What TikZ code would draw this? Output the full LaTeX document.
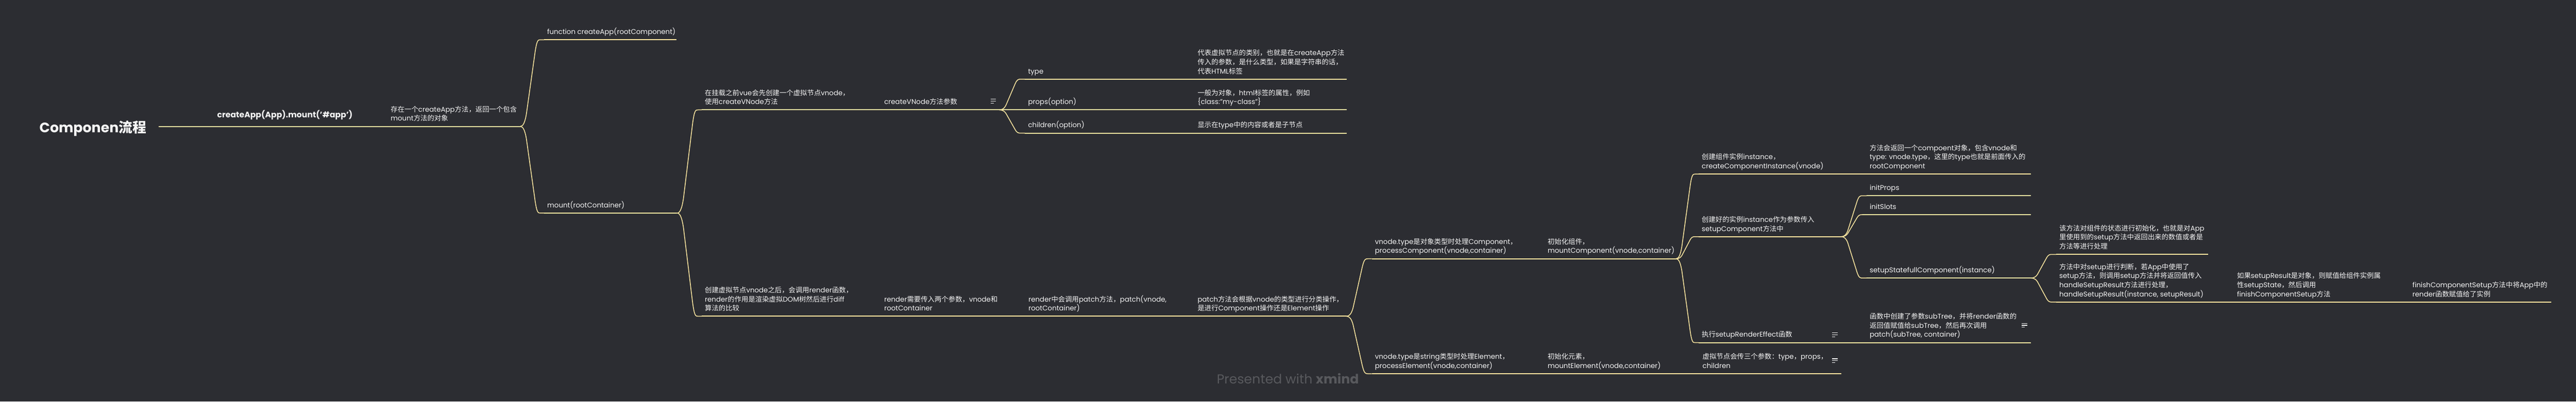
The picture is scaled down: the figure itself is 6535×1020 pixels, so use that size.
\documentclass[tikz,border=0pt]{standalone}
\usepackage{fontspec}
\setmainfont{Poppins}
\newfontfamily\cjkf{Noto Sans CJK SC}
\newfontfamily\latf{Poppins}
\usetikzlibrary{calc}
\definecolor{bgc}{RGB}{44,45,50}
\definecolor{lnc}{RGB}{250,230,160}
\definecolor{txc}{RGB}{245,245,245}
\definecolor{wmc}{RGB}{88,89,93}
\XeTeXinterchartokenstate=1
\newXeTeXintercharclass\CJKcls
\makeatletter
\def\setcjkrange#1#2{\count@=#1\relax\loop\ifnum\count@<#2\relax\XeTeXcharclass\count@=\CJKcls\advance\count@ by 1\relax\repeat}
\setcjkrange{"3000}{"3040}
\setcjkrange{"4E00}{"A000}
\setcjkrange{"FF00}{"FFF0}
\makeatother
\XeTeXinterchartoks 0 \CJKcls = {\cjkf}
\XeTeXinterchartoks 4095 \CJKcls = {\cjkf}
\XeTeXinterchartoks \CJKcls 0 = {\latf}
\XeTeXinterchartoks \CJKcls 4095 = {\latf}
\tikzset{
  txt/.style={text=txc, inner sep=0pt, align=left, anchor=south west,
    font=\fontsize{17.5}{23}\selectfont, execute at end node=\strut},
  ul/.style={draw=lnc, line width=2.6pt},
  xm/.style={to path={let \p1=(\tikztostart), \p2=(\tikztotarget), \n1={\x2-\x1}, \n2={\y2-\y1} in
    .. controls (\x1+0.12*\n1,\y1) and (\x1+0.2*\n1,\y1+0.05*\n2) .. (\x1+0.26*\n1,\y1+0.15*\n2)
    -- (\x1+0.62*\n1,\y1+0.85*\n2)
    .. controls (\x1+0.7*\n1,\y2) and (\x1+0.75*\n1,\y2) .. (\x1+0.85*\n1,\y2) -- (\p2)}},
  br/.style={draw=lnc, line width=2pt, xm},
  noteicon/.style={draw=txc, line width=1.6pt}
}
\newcommand\xmtopic[5]{%
  \coordinate (#1L) at (#2,#4);
  \coordinate (#1R) at (#3,#4);
  \draw[ul] (#1L) -- (#1R);
  \node[txt] (#1) at ($(#1L)+(8,-7)$) {#5};
}
\newcommand\xmnote[2]{%
  \draw[noteicon] (#1-7,#2-5) -- (#1+7,#2-5);
  \draw[noteicon] (#1-7,#2) -- (#1+7,#2);
  \draw[noteicon] (#1-7,#2+5) -- (#1+1,#2+5);
}
\begin{document}
\begin{tikzpicture}[x=1pt,y=-1pt]
\fill[bgc] (0,0) rectangle (6535,1020);
\useasboundingbox (0,0) rectangle (6535,1020);

% root
\node[text=txc, inner sep=0pt, anchor=base west, font=\fontsize{35}{42}\selectfont\bfseries] (root) at (100,337) {Componen流程};
\coordinate (rootR) at (402,321);

% main topic
\coordinate (caL) at (528,321);
\coordinate (caR) at (918,321);
\draw[ul] (caL) -- (caR);
\node[txt, font=\fontsize{20.5}{25}\selectfont\bfseries] (ca) at (551,306) {createApp(App).mount('\#app')};
\draw[ul] (rootR) -- (caL);

\xmtopic{d1}{983}{1320}{321}{存在一个createApp方法，返回一个包含\\mount方法的对象}
\draw[ul] (caR) -- (d1L);

\xmtopic{fn}{1380}{1716}{101}{function createApp(rootComponent)}
\xmtopic{mt}{1380}{1718}{541}{mount(rootContainer)}
\draw[br] (d1R) to (fnL);
\draw[br] (d1R) to (mtL);

\xmtopic{vn}{1780}{2170}{279}{在挂载之前vue会先创建一个虚拟节点vnode，\\使用createVNode方法}
\xmtopic{rn}{1780}{2170}{803}{创建虚拟节点vnode之后，会调用render函数，\\render的作用是渲染虚拟DOM树然后进行diff\\算法的比较}
\draw[br] (mtR) to (vnL);
\draw[br] (mtR) to (rnL);

\xmtopic{vp}{2235}{2535}{279}{createVNode方法参数}
\draw[ul] (vnR) -- (vpL);
\xmnote{2520}{257}

\xmtopic{ty}{2600}{2964}{201}{type}
\xmtopic{tyD}{3030}{3416}{201}{代表虚拟节点的类别，也就是在createApp方法\\传入的参数，是什么类型，如果是字符串的话，\\代表HTML标签}
\xmtopic{pr}{2600}{2964}{279}{props(option)}
\xmtopic{prD}{3030}{3416}{279}{一般为对象，html标签的属性，例如\\\{class:"my-class"\}}
\xmtopic{ch}{2600}{2964}{338}{children(option)}
\xmtopic{chD}{3030}{3416}{338}{显示在type中的内容或者是子节点}
\draw[br] (vpR) to (tyL);
\draw[ul] (vpR) -- (prL);
\draw[br] (vpR) to (chL);
\draw[ul] (tyR) -- (tyDL);
\draw[ul] (prR) -- (prDL);
\draw[ul] (chR) -- (chDL);

\xmtopic{rp}{2235}{2536}{803}{render需要传入两个参数，vnode和\\rootContainer}
\xmtopic{rc}{2601}{2965}{803}{render中会调用patch方法，patch(vnode,\\rootContainer)}
\xmtopic{pt}{3030}{3416}{803}{patch方法会根据vnode的类型进行分类操作，\\是进行Component操作还是Element操作}
\draw[ul] (rnR) -- (rpL);
\draw[ul] (rpR) -- (rcL);
\draw[ul] (rcR) -- (ptL);

\xmtopic{pc}{3480}{3854}{657}{vnode.type是对象类型时处理Component，\\processComponent(vnode,container)}
\xmtopic{mc}{3918}{4252}{657}{初始化组件，\\mountComponent(vnode,container)}
\xmtopic{pe}{3480}{3854}{949}{vnode.type是string类型时处理Element，\\processElement(vnode,container)}
\xmtopic{me}{3918}{4252}{949}{初始化元素，\\mountElement(vnode,container)}
\xmtopic{vc}{4311}{4671}{949}{虚拟节点会传三个参数：type，props，\\children}
\draw[br] (ptR) to (pcL);
\draw[br] (ptR) to (peL);
\draw[ul] (pcR) -- (mcL);
\draw[ul] (peR) -- (meL);
\draw[ul] (meR) -- (vcL);
\xmnote{4655}{916}

\xmtopic{ci}{4309}{4671}{442}{创建组件实例instance，\\createComponentInstance(vnode)}
\xmtopic{ciD}{4735}{5152}{442}{方法会返回一个compoent对象，包含vnode和\\type: vnode.type，这里的type也就是前面传入的\\rootComponent}
\xmtopic{sc}{4309}{4671}{601}{创建好的实例instance作为参数传入\\setupComponent方法中}
\xmtopic{sr}{4309}{4671}{870}{执行setupRenderEffect函数}
\xmtopic{srD}{4735}{5152}{870}{函数中创建了参数subTree，并将render函数的\\返回值赋值给subTree，然后再次调用\\patch(subTree, container)}
\draw[br] (mcR) to (ciL);
\draw[br] (mcR) to (scL);
\draw[br] (mcR) to (srL);
\draw[ul] (ciR) -- (ciDL);
\draw[ul] (srR) -- (srDL);
\xmnote{4655}{850}
\xmnote{5136}{826}

\xmtopic{ip}{4735}{5152}{497}{initProps}
\xmtopic{is}{4735}{5152}{545}{initSlots}
\xmtopic{ss}{4735}{5152}{706}{setupStatefullComponent(instance)}
\draw[br] (scR) to (ipL);
\draw[br] (scR) to (isL);
\draw[br] (scR) to (ssL);

\xmtopic{sa}{5216}{5602}{646}{该方法对组件的状态进行初始化，也就是对App\\里使用到的setup方法中返回出来的数值或者是\\方法等进行处理}
\xmtopic{sb}{5216}{5602}{767}{方法中对setup进行判断，若App中使用了\\setup方法，则调用setup方法并将返回值传入\\handleSetupResult方法进行处理，\\handleSetupResult(instance, setupResult)}
\xmtopic{hs}{5667}{6049}{767}{如果setupResult是对象，则赋值给组件实例属\\性setupState，然后调用\\finishComponentSetup方法}
\xmtopic{fc}{6112}{6472}{767}{finishComponentSetup方法中将App中的\\render函数赋值给了实例}
\draw[br] (ssR) to (saL);
\draw[br] (ssR) to (sbL);
\draw[ul] (sbR) -- (hsL);
\draw[ul] (hsR) -- (fcL);

% watermark
\node[text=wmc, inner sep=0pt, font=\fontsize{33}{40}\selectfont] (wm) at (3267,961) {Presented with \textbf{xmind}};
\end{tikzpicture}
\end{document}
